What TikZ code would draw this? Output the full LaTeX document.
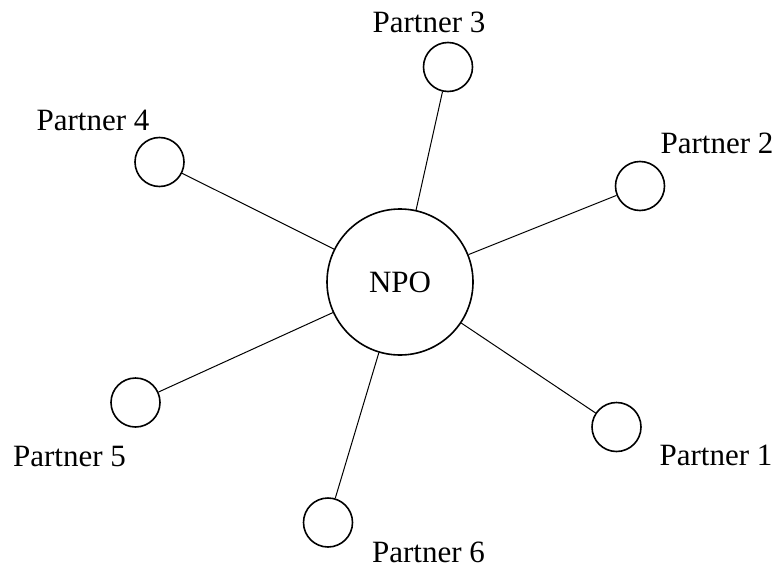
\documentclass[tikz,border=0pt]{standalone}
\usepackage{fontspec}
\setmainfont{Liberation Serif}
\usetikzlibrary{positioning}

\tikzset{partner/.style={circle,draw,line width=0.8pt,minimum size=24.5pt,inner sep=0pt},
  hub/.style={circle,draw,line width=0.8pt,minimum size=73pt,inner sep=0pt,
    font=\fontsize{15.5}{18}\selectfont,text height=1.03em},
  lbl/.style={inner sep=0pt,anchor=base,font=\fontsize{15.5}{18}\selectfont}}

\begin{document}
\begin{tikzpicture}[x=0.5pt,y=-0.5pt]
\useasboundingbox (0,0) rectangle (779,572);
\node[hub] (npo) at (400,282) {NPO};
% partners
\node[partner] (p1) at (616.5,427) {};
\node[partner] (p2) at (640,186) {};
\node[partner] (p3) at (448,67) {};
\node[partner] (p4) at (159.5,162) {};
\node[partner] (p5) at (135.5,402.5) {};
\node[partner] (p6) at (328,522.5) {};
% names
\node[lbl] (l1) at (716,465) {Partner 1};
\node[lbl] (l2) at (717,154) {Partner 2};
\node[lbl] (l3) at (429,33) {Partner 3};
\node[lbl] (l4) at (93,131) {Partner 4};
\node[lbl] (l5) at (69.5,466) {Partner 5};
\node[lbl] (l6) at (428.5,562) {Partner 6};
\foreach \i in {1,...,6}
  \draw[line width=0.5pt] (npo) -- (p\i);
\end{tikzpicture}
\end{document}
